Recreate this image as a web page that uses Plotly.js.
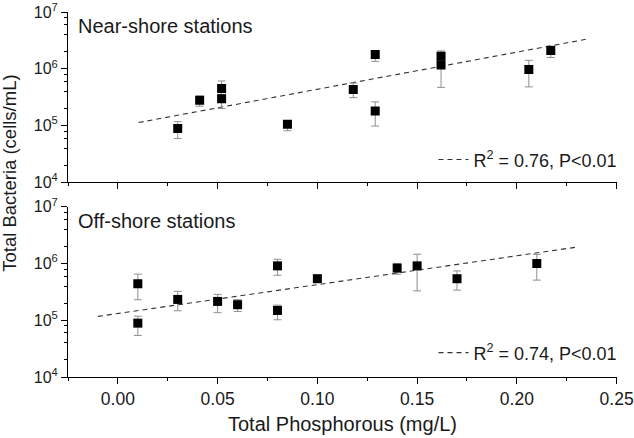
<!DOCTYPE html>
<html>
<head>
<meta charset="utf-8">
<script src="https://cdn.plot.ly/plotly-3.0.1.min.js"></script>
<style>html,body{margin:0;padding:0;background:#fff;}#chart{width:634px;height:438px;}</style>
</head>
<body>
<div id="chart"></div>
<script>
// Near-shore stations
const nearX      = [0.030, 0.041, 0.052, 0.052, 0.085, 0.118, 0.129, 0.129, 0.162, 0.162, 0.206, 0.217];
const nearY      = [8.9e4, 2.8e5, 4.5e5, 2.95e5, 1.05e5, 4.3e5, 1.78e6, 1.8e5, 1.66e6, 1.16e6, 9.7e5, 2.1e6];
const nearErrUp  = [2.8e4, 5.1e4, 1.6e5, 6.0e4, 1.5e4, 1.3e5, 2.6e5, 8.1e4, 4.0e5, 3.0e5, 4.4e5, 4.1e5];
const nearErrDn  = [3.0e4, 6.1e4, 1.2e5, 9.5e4, 2.4e4, 1.2e5, 4.3e5, 8.2e4, 3.0e5, 6.9e5, 4.9e5, 5.2e5];
const nearFitX   = [0.0104, 0.2345];
const nearFitY   = [1.13e5, 3.3e6];

// Off-shore stations
const offX       = [0.010, 0.010, 0.030, 0.050, 0.060, 0.080, 0.080, 0.100, 0.140, 0.150, 0.170, 0.210];
const offY       = [4.4e5, 8.9e4, 2.33e5, 2.15e5, 1.88e5, 9.1e5, 1.49e5, 5.4e5, 8.3e5, 9.1e5, 5.4e5, 1.0e6];
const offErrUp   = [2.1e5, 2.9e4, 9.1e4, 7.1e4, 4.3e4, 2.8e5, 3.6e4, 9.0e4, 1.7e5, 5.5e5, 2.0e5, 4.5e5];
const offErrDn   = [2.1e5, 3.5e4, 8.6e4, 7.9e4, 4.5e4, 2.9e5, 4.7e4, 6.0e4, 1.8e5, 5.8e5, 2.0e5, 4.9e5];
const offFitX    = [-0.010, 0.231];
const offFitY    = [1.17e5, 1.97e6];

const nearLabel = "R<sup>2</sup> = 0.76, P<0.01";
const offLabel  = "R<sup>2</sup> = 0.74, P<0.01";
const nearTitle = "Near-shore stations";
const offTitle  = "Off-shore stations";
const xTickVals = [0.00, 0.05, 0.10, 0.15, 0.20, 0.25];
const xTickText = ["0.00", "0.05", "0.10", "0.15", "0.20", "0.25"];
const xMinorVals = [-0.025, 0.025, 0.075, 0.125, 0.175, 0.225];
const yTickVals = [1e4, 1e5, 1e6, 1e7];
const yTickText = ["10<sup>4</sup>", "10<sup>5</sup>", "10<sup>6</sup>", "10<sup>7</sup>"];
const yMinorVals = [];
[1e4, 1e5, 1e6].forEach(d => [2,4,6,8].forEach(m => yMinorVals.push(d*m)));

const FONT = "Liberation Sans, Arial, sans-serif";
const TXT = '#1a1a1a';
const errStyle = {type:'data', symmetric:false, color:'#8f8f8f', thickness:1, width:4};
const markerStyle = {symbol:'square', size:9, color:'#000'};
const fitLine = {color:'#333', width:1.1, dash:'5px,4px'};

const traces = [
  {x: nearFitX, y: nearFitY, xaxis:'x2', yaxis:'y2', mode:'lines', line:fitLine, name: nearLabel, legend:'legend', showlegend:true, hoverinfo:'skip'},
  {x: nearX, y: nearY, xaxis:'x2', yaxis:'y2', mode:'markers', marker:markerStyle, showlegend:false,
   error_y: Object.assign({array: nearErrUp, arrayminus: nearErrDn}, errStyle)},
  {x: offFitX, y: offFitY, xaxis:'x', yaxis:'y', mode:'lines', line:fitLine, name: offLabel, legend:'legend2', showlegend:true, hoverinfo:'skip'},
  {x: offX, y: offY, xaxis:'x', yaxis:'y', mode:'markers', marker:markerStyle, showlegend:false,
   error_y: Object.assign({array: offErrUp, arrayminus: offErrDn}, errStyle)}
];

const xCommon = {
  range:[-0.025, 0.2502], tickmode:'array', tickvals:xTickVals, ticktext:xTickText,
  ticklabeloverflow:'allow',
  showline:true, linecolor:'#000', linewidth:1, mirror:false,
  ticks:'outside', ticklen:6, tickcolor:'#000', tickwidth:1,
  minor:{ticks:'outside', ticklen:3, tickmode:'array', tickvals:xMinorVals, tickcolor:'#000'},
  showgrid:false, zeroline:false,
  tickfont:{family:FONT, size:17.5, color:TXT}
};
const yCommon = {
  type:'log', range:[4,7], tickmode:'array', tickvals:yTickVals, ticktext:yTickText,
  ticklabeloverflow:'allow',
  showline:true, linecolor:'#000', linewidth:1,
  ticks:'outside', ticklen:6, tickcolor:'#000', tickwidth:1,
  minor:{ticks:'outside', ticklen:3, tickmode:'array', tickvals:yMinorVals, tickcolor:'#000'},
  showgrid:false, zeroline:false,
  tickfont:{family:FONT, size:16, color:TXT}
};

const layout = {
  width:634, height:438,
  margin:{l:68, r:17, t:12, b:61},
  paper_bgcolor:'#fff', plot_bgcolor:'#fff',
  font:{family:FONT, color:TXT},
  xaxis: Object.assign({}, xCommon, {anchor:'y', domain:[0,1],
    title:{text:'Total Phosphorous (mg/L)', font:{family:FONT, size:20, color:TXT}, standoff:8}}),
  xaxis2: Object.assign({}, xCommon, {anchor:'y2', matches:'x', showticklabels:false}),
  yaxis: Object.assign({}, yCommon, {anchor:'x', domain:[0, 0.4663]}),
  yaxis2: Object.assign({}, yCommon, {anchor:'x2', domain:[0.5334, 1]}),
  legend: {x:1.01, xanchor:'right', y:0.595, yanchor:'middle', bgcolor:'rgba(0,0,0,0)',
    font:{family:FONT, size:18, color:TXT}, itemwidth:30, tracegroupgap:0},
  legend2: {x:1.01, xanchor:'right', y:0.066, yanchor:'middle', bgcolor:'rgba(0,0,0,0)',
    font:{family:FONT, size:18, color:TXT}, itemwidth:30, tracegroupgap:0},
  annotations:[
    {text:nearTitle, xref:'paper', yref:'paper', x:0.014, y:0.962, xanchor:'left', yanchor:'middle', showarrow:false,
     font:{family:FONT, size:20, color:TXT}},
    {text:offTitle, xref:'paper', yref:'paper', x:0.014, y:0.427, xanchor:'left', yanchor:'middle', showarrow:false,
     font:{family:FONT, size:20, color:TXT}},
    {text:'Total Bacteria (cells/mL)', xref:'paper', yref:'paper', x:-0.106, y:0.559, xanchor:'center', yanchor:'middle',
     textangle:-90, showarrow:false, font:{family:FONT, size:18.5, color:TXT}}
  ]
};

Plotly.newPlot('chart', traces, layout, {displayModeBar:false, staticPlot:true});
</script>
</body>
</html>
